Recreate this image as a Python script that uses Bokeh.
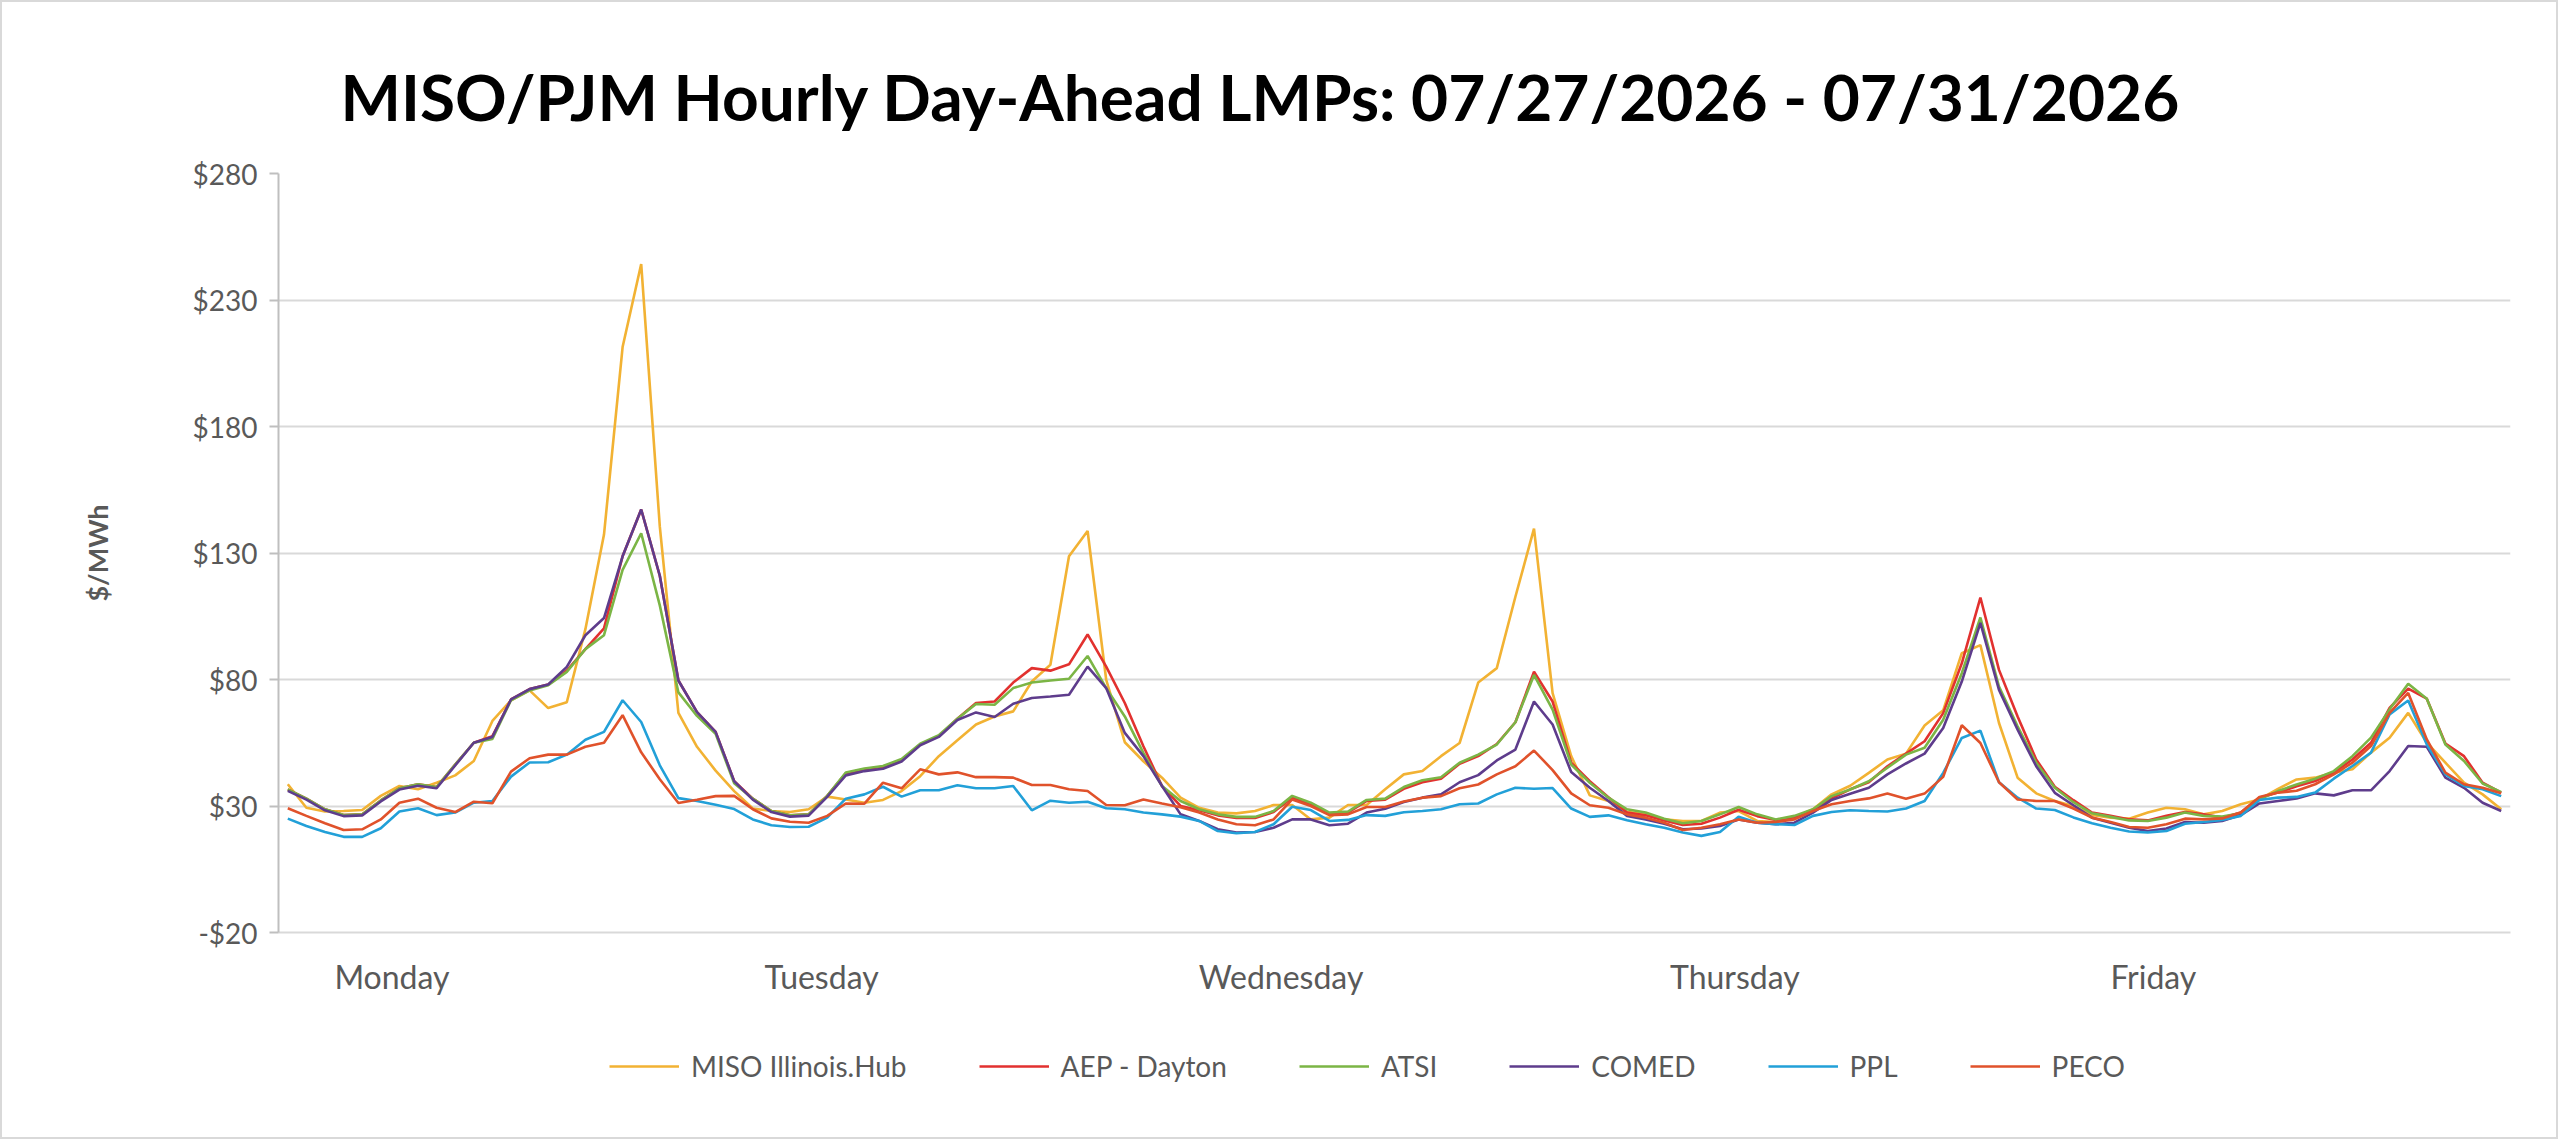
from bokeh.plotting import figure
from bokeh.layouts import column
from bokeh.models import Range1d, FixedTicker, Legend, LegendItem
from bokeh.embed import file_html
from bokeh.resources import INLINE

# ---------------- data (hourly, Mon 07/27 HE1 .. Fri 07/31 HE24) ----------------
hours = list(range(120))

miso = [38.6, 29.3, 27.8, 28.0, 28.4, 34.0, 37.9, 36.6, 39.2, 42.1, 47.8, 63.6,
        71.8, 75.7, 68.7, 71.0, 99.9, 137.3, 211.4, 244.2, 140.5, 66.8, 53.4, 44.0,
        35.9, 29.0, 28.0, 27.6, 28.7, 33.7, 32.6, 31.3, 32.4, 35.9, 41.8, 49.7,
        56.0, 62.2, 65.4, 67.4, 79.2, 85.8, 128.7, 138.7, 79.9, 55.2, 47.7, 41.2,
        33.3, 29.3, 27.4, 27.1, 28.0, 30.4, 30.4, 24.7, 25.4, 30.4, 30.4, 36.6,
        42.5, 43.8, 49.7, 54.9, 78.8, 84.5, 112.7, 139.6, 74.6, 49.7, 34.2, 32.0,
        27.7, 26.7, 24.7, 24.1, 24.1, 27.4, 28.0, 24.1, 23.7, 25.4, 28.7, 34.6,
        38.0, 43.1, 48.4, 50.7, 61.8, 67.8, 90.4, 93.6, 62.8, 41.2, 35.0, 32.0,
        30.0, 26.5, 25.4, 25.0, 27.4, 29.3, 28.7, 26.7, 28.0, 30.7, 32.6, 36.8,
        40.5, 41.2, 43.2, 44.5, 51.1, 57.0, 66.8, 55.0, 47.1, 39.2, 34.6, 28.7]

aep = [36.6, 32.9, 28.7, 26.4, 26.7, 32.2, 37.0, 38.6, 37.5, 46.4, 55.0, 57.6,
       72.1, 76.2, 78.0, 83.5, 92.0, 100.2, 128.7, 147.2, 121.0, 79.6, 67.1, 59.3,
       39.8, 32.9, 28.0, 26.3, 26.7, 34.0, 42.9, 44.5, 45.5, 48.2, 54.3, 57.6,
       64.5, 70.7, 71.3, 78.8, 84.5, 83.5, 86.0, 97.8, 85.1, 70.7, 53.6, 37.9,
       30.0, 28.3, 26.3, 25.3, 25.3, 27.6, 33.3, 30.8, 27.0, 27.4, 32.0, 32.5,
       36.8, 39.4, 40.8, 46.7, 49.7, 54.5, 63.1, 83.1, 71.3, 47.1, 39.8, 33.5,
       27.4, 26.3, 24.3, 22.5, 23.0, 25.4, 28.5, 26.0, 24.5, 25.6, 28.4, 33.0,
       36.6, 39.4, 45.7, 50.7, 55.6, 66.7, 86.4, 112.4, 83.8, 65.4, 48.4, 37.6,
       32.3, 27.4, 26.1, 24.7, 24.3, 26.1, 27.6, 26.7, 25.4, 27.4, 33.3, 35.3,
       37.8, 39.9, 43.2, 48.4, 55.0, 68.8, 76.4, 72.4, 54.7, 49.7, 39.2, 35.3]

atsi = [36.6, 32.9, 28.7, 26.4, 26.7, 32.2, 37.0, 38.6, 37.5, 46.4, 55.0, 56.5,
        71.8, 75.7, 77.7, 83.0, 92.0, 97.5, 123.3, 137.8, 109.3, 74.9, 65.6, 58.5,
        39.0, 32.9, 28.0, 26.3, 26.7, 34.0, 43.2, 44.8, 45.8, 48.6, 54.6, 58.0,
        64.5, 70.3, 70.0, 76.6, 78.8, 79.6, 80.3, 89.3, 76.6, 65.4, 51.0, 37.9,
        32.0, 28.7, 26.7, 25.7, 25.7, 28.0, 34.0, 31.3, 27.4, 27.8, 32.4, 32.9,
        37.5, 40.2, 41.4, 47.1, 50.3, 54.3, 63.1, 81.8, 68.1, 46.4, 39.2, 33.3,
        28.7, 27.4, 25.0, 23.2, 24.1, 26.7, 29.6, 26.7, 24.7, 26.1, 28.7, 33.9,
        36.5, 39.8, 45.1, 50.3, 53.0, 64.1, 82.5, 104.5, 77.2, 61.5, 47.1, 37.2,
        31.5, 27.1, 25.7, 24.3, 24.1, 25.4, 27.4, 26.1, 25.8, 27.1, 32.6, 35.9,
        38.5, 40.8, 43.8, 49.7, 57.0, 68.2, 78.3, 72.4, 54.3, 47.8, 38.9, 35.5]

comed = [36.0, 32.5, 28.3, 26.0, 26.3, 31.8, 36.5, 38.0, 37.0, 46.0, 55.0, 57.3,
         72.1, 76.2, 78.0, 85.0, 97.5, 104.3, 128.7, 147.2, 121.0, 79.6, 67.1, 59.3,
         39.8, 32.5, 27.6, 25.8, 26.2, 33.6, 42.1, 43.8, 44.7, 47.6, 54.0, 57.3,
         64.0, 67.0, 65.2, 70.4, 72.7, 73.3, 74.0, 85.1, 76.6, 58.9, 49.7, 37.9,
         26.7, 24.1, 20.8, 19.5, 19.7, 21.4, 24.7, 24.7, 22.4, 23.0, 27.4, 28.9,
         31.6, 33.3, 34.6, 39.4, 42.2, 48.0, 52.3, 71.3, 62.2, 43.4, 37.2, 32.0,
         26.1, 24.7, 23.0, 20.8, 21.1, 22.1, 24.7, 23.4, 22.8, 23.4, 27.4, 32.4,
         34.8, 37.2, 42.5, 46.8, 50.7, 60.8, 79.2, 102.4, 75.9, 60.2, 45.7, 35.2,
         30.3, 25.4, 23.4, 21.4, 20.1, 21.1, 23.7, 23.4, 24.1, 26.4, 31.0, 32.0,
         33.0, 35.0, 34.2, 36.2, 36.2, 43.8, 53.7, 53.4, 41.2, 37.2, 31.3, 28.0]

ppl = [25.0, 22.1, 19.7, 17.8, 17.8, 21.2, 27.8, 29.1, 26.4, 27.4, 31.3, 32.0,
       41.6, 47.2, 47.3, 50.3, 56.2, 59.3, 71.8, 63.2, 46.1, 33.1, 32.0, 30.5,
       28.8, 24.7, 22.4, 21.7, 21.8, 25.4, 32.9, 34.6, 37.6, 33.7, 36.2, 36.2,
       38.2, 37.0, 37.0, 37.9, 28.3, 32.1, 31.3, 31.7, 29.1, 28.7, 27.4, 26.7,
       25.8, 24.1, 20.1, 19.2, 19.7, 22.8, 29.7, 28.4, 24.1, 24.5, 26.4, 26.1,
       27.5, 28.0, 28.7, 30.7, 31.0, 34.6, 37.2, 36.8, 37.1, 29.0, 25.7, 26.3,
       24.4, 22.8, 21.4, 19.5, 18.2, 19.7, 25.8, 23.4, 22.8, 22.5, 26.1, 27.6,
       28.3, 28.0, 27.8, 29.0, 32.0, 43.1, 56.9, 59.8, 39.4, 33.3, 29.0, 28.4,
       25.5, 23.2, 21.4, 19.9, 19.5, 20.1, 23.0, 23.7, 24.5, 26.1, 32.4, 33.3,
       33.6, 35.3, 40.8, 45.8, 51.1, 66.2, 71.7, 54.3, 42.5, 37.9, 36.6, 33.9]

peco = [29.1, 26.1, 23.2, 20.5, 20.8, 24.7, 31.3, 32.9, 29.3, 27.6, 31.7, 31.1,
        43.6, 48.9, 50.3, 50.3, 53.4, 55.0, 65.9, 51.2, 40.6, 31.2, 32.5, 33.9,
        34.0, 28.7, 25.1, 23.8, 23.4, 26.1, 31.0, 30.9, 39.2, 37.0, 44.5, 42.5,
        43.3, 41.4, 41.4, 41.2, 38.3, 38.3, 36.6, 35.9, 30.4, 30.3, 32.6, 31.0,
        29.5, 27.4, 24.7, 22.8, 22.4, 24.7, 32.6, 30.0, 26.4, 26.7, 29.6, 29.6,
        31.8, 33.3, 33.9, 37.0, 38.5, 42.5, 45.7, 51.9, 44.2, 35.0, 30.3, 29.3,
        26.7, 25.4, 23.4, 20.5, 21.4, 22.8, 24.7, 23.4, 23.7, 24.7, 28.0, 30.7,
        32.0, 33.0, 34.9, 32.9, 34.9, 41.5, 61.9, 54.9, 39.4, 32.6, 32.0, 32.0,
        29.0, 25.4, 23.7, 21.7, 21.4, 22.8, 25.0, 24.7, 25.1, 27.4, 33.6, 35.3,
        36.0, 38.6, 42.5, 47.1, 53.7, 66.8, 74.7, 56.3, 43.2, 38.6, 37.2, 35.0]

series_names = ["MISO Illinois.Hub", "AEP - Dayton", "ATSI", "COMED", "PPL", "PECO"]
series_values = [miso, aep, atsi, comed, ppl, peco]
series_colors = ["#F2B233", "#E2312F", "#7BB545", "#5E3C8C", "#22A0D8", "#E0522B"]

day_labels = ["Monday", "Tuesday", "Wednesday", "Thursday", "Friday"]
day_label_pos = [5.6, 28.7, 53.4, 77.8, 100.3]

y_ticks = [-20, 30, 80, 130, 180, 230, 280]
y_tick_labels = ["-$20", "$30", "$80", "$130", "$180", "$230", "$280"]

title_text = "MISO/PJM Hourly Day-Ahead LMPs: 07/27/2026 - 07/31/2026"

FONT = "Lato"
GREY = "#595959"
LINE_W = 2.6

# ---------------- main chart ----------------
p = figure(width=2554, height=1005, output_backend="svg", toolbar_location=None,
           x_range=Range1d(-0.5, 119.5), y_range=Range1d(-20, 280),
           min_border_left=276, min_border_right=46,
           min_border_top=171, min_border_bottom=75)
p.outline_line_color = None
p.background_fill_color = "white"
p.border_fill_color = "white"

# title
p.title.text = title_text
p.title.align = "left"
p.title.offset = 62
p.title.standoff = 78
p.title.text_font = FONT
p.title.text_font_style = "bold"
p.title.text_font_size = "64px"
p.title.text_color = "black"

# grid
p.xgrid.grid_line_color = None
p.ygrid.grid_line_color = "#D9D9D9"
p.ygrid.grid_line_width = 2

# y axis
p.yaxis.ticker = FixedTicker(ticks=y_ticks)
p.yaxis.major_label_overrides = {t: s for t, s in zip(y_ticks, y_tick_labels)}
p.yaxis.axis_line_color = "#BFBFBF"
p.yaxis.axis_line_width = 2
p.yaxis.major_tick_line_color = "#BFBFBF"
p.yaxis.major_tick_line_width = 2
p.yaxis.major_tick_in = 0
p.yaxis.major_tick_out = 9
p.yaxis.minor_tick_line_color = None
p.yaxis.major_label_text_font = FONT
p.yaxis.major_label_text_font_size = "28px"
p.yaxis.major_label_text_color = GREY
p.yaxis.major_label_standoff = 12
p.yaxis.axis_label = "$/MWh"
p.yaxis.axis_label_text_font = FONT
p.yaxis.axis_label_text_font_style = "bold"
p.yaxis.axis_label_text_font_size = "27px"
p.yaxis.axis_label_text_color = GREY
p.yaxis.axis_label_standoff = 76

# x axis
p.xaxis.ticker = FixedTicker(ticks=day_label_pos)
p.xaxis.major_label_overrides = {t: s for t, s in zip(day_label_pos, day_labels)}
p.xaxis.axis_line_color = "#D9D9D9"
p.xaxis.axis_line_width = 2
p.xaxis.major_tick_line_color = None
p.xaxis.minor_tick_line_color = None
p.xaxis.major_tick_in = 0
p.xaxis.major_tick_out = 0
p.xaxis.major_label_text_font = FONT
p.xaxis.major_label_text_font_size = "32px"
p.xaxis.major_label_text_color = GREY
p.xaxis.major_label_standoff = 24

for name, vals, col in zip(series_names, series_values, series_colors):
    p.line(hours, vals, line_color=col, line_width=LINE_W)

# ---------------- legend strip ----------------
lg = figure(width=2554, height=130, output_backend="svg", toolbar_location=None,
            x_range=Range1d(-1000, -999), y_range=Range1d(-1000, -999),
            min_border=0)
lg.axis.visible = False
lg.grid.visible = False
lg.outline_line_color = None
lg.background_fill_color = "white"
lg.border_fill_color = "white"

items = []
for name, vals, col in zip(series_names, series_values, series_colors):
    r = lg.line(hours, vals, line_color=col, line_width=LINE_W)
    items.append(LegendItem(label=name, renderers=[r]))

legend = Legend(items=items, orientation="horizontal", location=(331, 54),
                glyph_width=70, glyph_height=24, label_standoff=12, spacing=72,
                padding=0, margin=0, border_line_color=None,
                background_fill_alpha=0.0,
                label_text_font=FONT, label_text_font_size="28px",
                label_text_color=GREY)
lg.add_layout(legend, "center")

page = column(p, lg, spacing=0, styles={"border": "2px solid #D9D9D9"})

open("out.html", "w").write(file_html(page, INLINE))
